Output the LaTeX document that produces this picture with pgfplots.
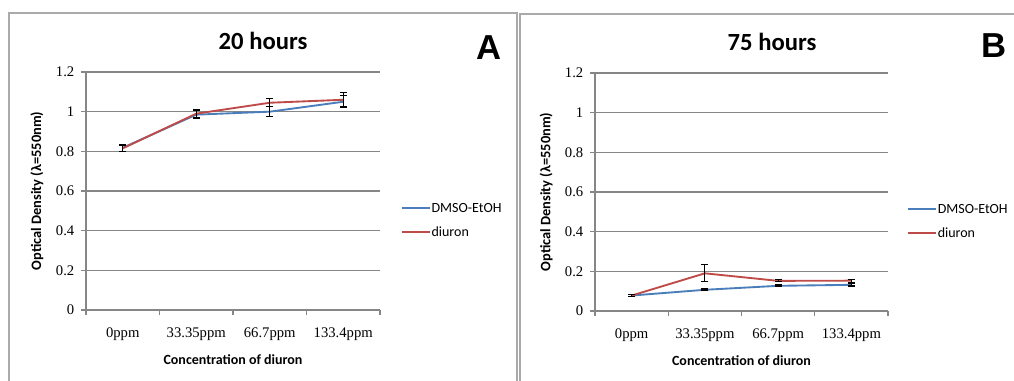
\documentclass[border=0pt]{standalone}
\usepackage{pgfplots}
\pgfplotsset{compat=1.18}
\usepackage{fontspec}
\setmainfont{Carlito}
\newfontfamily\serifticks{Liberation Serif}
\newfontfamily\arialfont{Liberation Sans}
\definecolor{gridc}{RGB}{134,134,134}
\definecolor{framec}{RGB}{170,170,170}
\definecolor{blueline}{RGB}{74,126,187}
\definecolor{redline}{RGB}{190,75,72}
\pgfplotsset{
  legend image code/.code={},
  excel/.style={
    scale only axis,
    width=220.5pt, height=178.5pt,
    anchor=south west,
    xmin=-0.5, xmax=3.5, ymin=0, ymax=1.2,
    axis x line*=bottom, axis y line*=left,
    axis line style={-, draw=gridc, line width=0.8pt},
    xtick={0,1,2,3},
    xticklabels={0ppm,33.35ppm,66.7ppm,133.4ppm},
    minor xtick={-0.5,0.5,1.5,2.5,3.5},
    xtick style={draw=none},
    minor x tick style={draw=gridc, line width=0.8pt},
    ytick={0,0.2,0.4,0.6,0.8,1,1.2},
    yticklabels={0,0.2,0.4,0.6,0.8,1,1.2},
    ytick style={draw=gridc, line width=0.8pt},
    tick align=outside,
    major tick length=3.75pt, minor tick length=3.75pt,
    ymajorgrids,
    major grid style={draw=gridc, line width=0.8pt},
    xticklabel style={font=\serifticks\fontsize{11}{12}\selectfont, yshift=-6pt},
    yticklabel style={font=\serifticks\fontsize{11}{12}\selectfont, xshift=-1.5pt},
    xlabel={Concentration of diuron},
    ylabel={Optical Density (λ=550nm)},
    xlabel style={font=\bfseries\fontsize{10.5}{12}\selectfont, at={(axis description cs:0.5,-0.21)}, anchor=center},
    ylabel style={font=\bfseries\fontsize{10.8}{12}\selectfont, at={(axis description cs:-0.167,0.5)}, anchor=center},
    clip=false,
    legend style={at={(1.062,0.376)}, anchor=west, draw=none, fill=none,
      inner sep=0pt, row sep=6pt, font=\fontsize{10.5}{12}\selectfont,
      nodes={inner sep=1pt, text height=8pt, text depth=2pt}},
    legend cell align=left,
    every axis plot/.append style={line width=1.4pt, mark=none},
    error bars/y dir=both, error bars/y explicit,
    error bars/error mark=|,
    error bars/error bar style={black, line width=0.8pt},
    error bars/error mark options={black, line width=0.8pt, mark size=2.6pt},
  }
}
\begin{document}
\begin{tikzpicture}
\useasboundingbox (0pt,0pt) rectangle (760.5pt,-285pt);
\fill[white] (0pt,0pt) rectangle (760.5pt,-285pt);
\draw[framec, line width=1.3pt] (6.75pt,-300pt) -- (6.75pt,-9.75pt) -- (387.75pt,-9.75pt) -- (387.75pt,-300pt);
\draw[framec, line width=1.3pt] (390pt,-300pt) -- (390pt,-10.5pt) -- (780pt,-10.5pt);
\node[font=\bfseries\fontsize{18.5}{20}\selectfont] at (197.25pt,-30.75pt) {20 hours};
\node[font=\bfseries\fontsize{18.5}{20}\selectfont] at (579pt,-31.5pt) {75 hours};
\node[font=\arialfont\bfseries\fontsize{26}{28}\selectfont] at (367.1pt,-35.6pt) {A};
\node[font=\arialfont\bfseries\fontsize{26}{28}\selectfont] at (745.5pt,-34.5pt) {B};

\begin{axis}[excel, at={(64.5pt,-232.5pt)}, legend style={at={(1.068,0.376)}}]
\addplot[blueline] table[x=x, y=y, y error=e] {
x y e
0 0.818 0.018
1 0.985 0.020
2 1.000 0.025
3 1.050 0.030
};
\addlegendentry{\textcolor{blueline}{\rule[2.6pt]{21pt}{1.4pt}}\hspace{1.5pt}DMSO-EtOH}
\addplot[redline] table[x=x, y=y, y error=e] {
x y e
0 0.815 0.015
1 0.990 0.020
2 1.045 0.020
3 1.060 0.035
};
\addlegendentry{\textcolor{redline}{\rule[2.6pt]{21pt}{1.4pt}}\hspace{1.5pt}diuron}
\end{axis}

\begin{axis}[excel, width=219.75pt, at={(446.25pt,-233.25pt)}]
\addplot[blueline] table[x=x, y=y, y error=e] {
x y e
0 0.078 0.003
1 0.107 0.004
2 0.127 0.004
3 0.132 0.006
};
\addlegendentry{\textcolor{blueline}{\rule[2.6pt]{21pt}{1.4pt}}\hspace{1.5pt}DMSO-EtOH}
\addplot[redline] table[x=x, y=y, y error=e] {
x y e
0 0.078 0.003
1 0.190 0.043
2 0.152 0.005
3 0.153 0.008
};
\addlegendentry{\textcolor{redline}{\rule[2.6pt]{21pt}{1.4pt}}\hspace{1.5pt}diuron}
\end{axis}
\end{tikzpicture}
\end{document}
